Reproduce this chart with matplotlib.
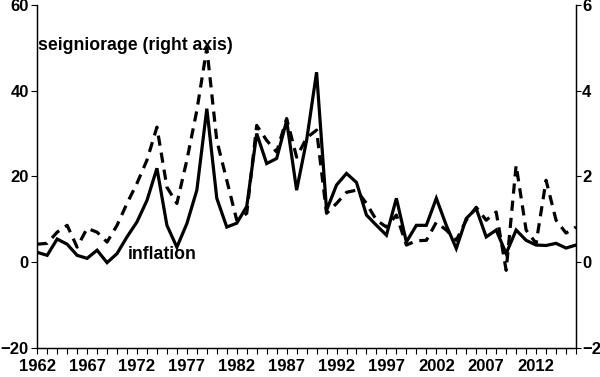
import matplotlib.pyplot as plt
import numpy as np

years = list(range(1962, 2017))

inflation = [2.3, 1.6, 5.4, 4.2, 1.6, 0.9, 2.8, -0.1, 2.0, 5.9,
             9.4, 14.4, 21.9, 8.6, 3.5, 9.0, 16.8, 35.8, 14.9, 8.2,
             9.1, 13.0, 30.0, 23.0, 24.2, 33.0, 16.8, 28.4, 44.3, 12.1,
             18.0, 20.7, 18.6, 11.0, 8.6, 6.3, 14.9, 4.7, 8.6, 8.6,
             14.9, 8.6, 3.2, 10.2, 12.5, 5.9, 7.5, 2.0, 7.5, 5.1,
             4.0, 3.9, 4.4, 3.3, 4.0]

seigniorage = [0.42, 0.44, 0.70, 0.86, 0.35, 0.79, 0.70, 0.47, 0.86, 1.37,
               1.84, 2.38, 3.15, 1.75, 1.37, 2.38, 3.54, 4.99, 2.84, 1.91,
               0.98, 1.14, 3.19, 2.84, 2.57, 3.35, 2.45, 2.90, 3.08, 1.14,
               1.37, 1.63, 1.68, 1.37, 0.98, 0.82, 1.10, 0.40, 0.50, 0.51,
               0.93, 0.75, 0.51, 0.98, 1.28, 0.98, 1.17, -0.19, 2.26, 0.75,
               0.44, 1.91, 0.98, 0.68, 0.82]

label_years = list(range(1962, 2013, 5))

plt.rcParams['font.family'] = ['Liberation Sans', 'DejaVu Sans']
plt.rcParams['font.weight'] = 'bold'

fig = plt.figure(figsize=(6, 3.77), dpi=100)
ax = fig.add_axes([0.062, 0.077, 0.898, 0.91])
ax2 = ax.twinx()

ax.plot(years, inflation, color='black', lw=2.3, solid_joinstyle='miter')
ax2.plot(years, seigniorage, color='black', lw=2.3, dashes=(3.2, 2.2))

ax.set_xlim(1962, 2016)
ax.set_ylim(-20, 60)
ax2.set_ylim(-2, 6)
ax.set_yticks([-20, 0, 20, 40, 60])
ax2.set_yticks([-2, 0, 2, 4, 6])
ax.set_xticks(label_years)
ax.set_xticks(years, minor=True)
ax.tick_params(axis='x', which='both', length=4, width=0.8, direction='out')
ax.tick_params(axis='x', which='major', labelsize=12, pad=4)
ax.tick_params(axis='y', length=4, width=0.8, labelsize=12, pad=2)
ax2.tick_params(axis='y', length=3.5, width=0.8, labelsize=12, pad=1)

for a in (ax, ax2):
    a.spines['top'].set_visible(False)
    for s in ('left', 'right', 'bottom'):
        a.spines[s].set_linewidth(0.9)

ax.text(1962.1, 50.6, 'seigniorage (right axis)', fontsize=12.7,
        fontweight='bold', va='center', ha='left')
ax.text(1971.1, 1.9, 'inflation', fontsize=12.7, fontweight='bold',
        va='center', ha='left')

fig.savefig('out.png', dpi=100)
